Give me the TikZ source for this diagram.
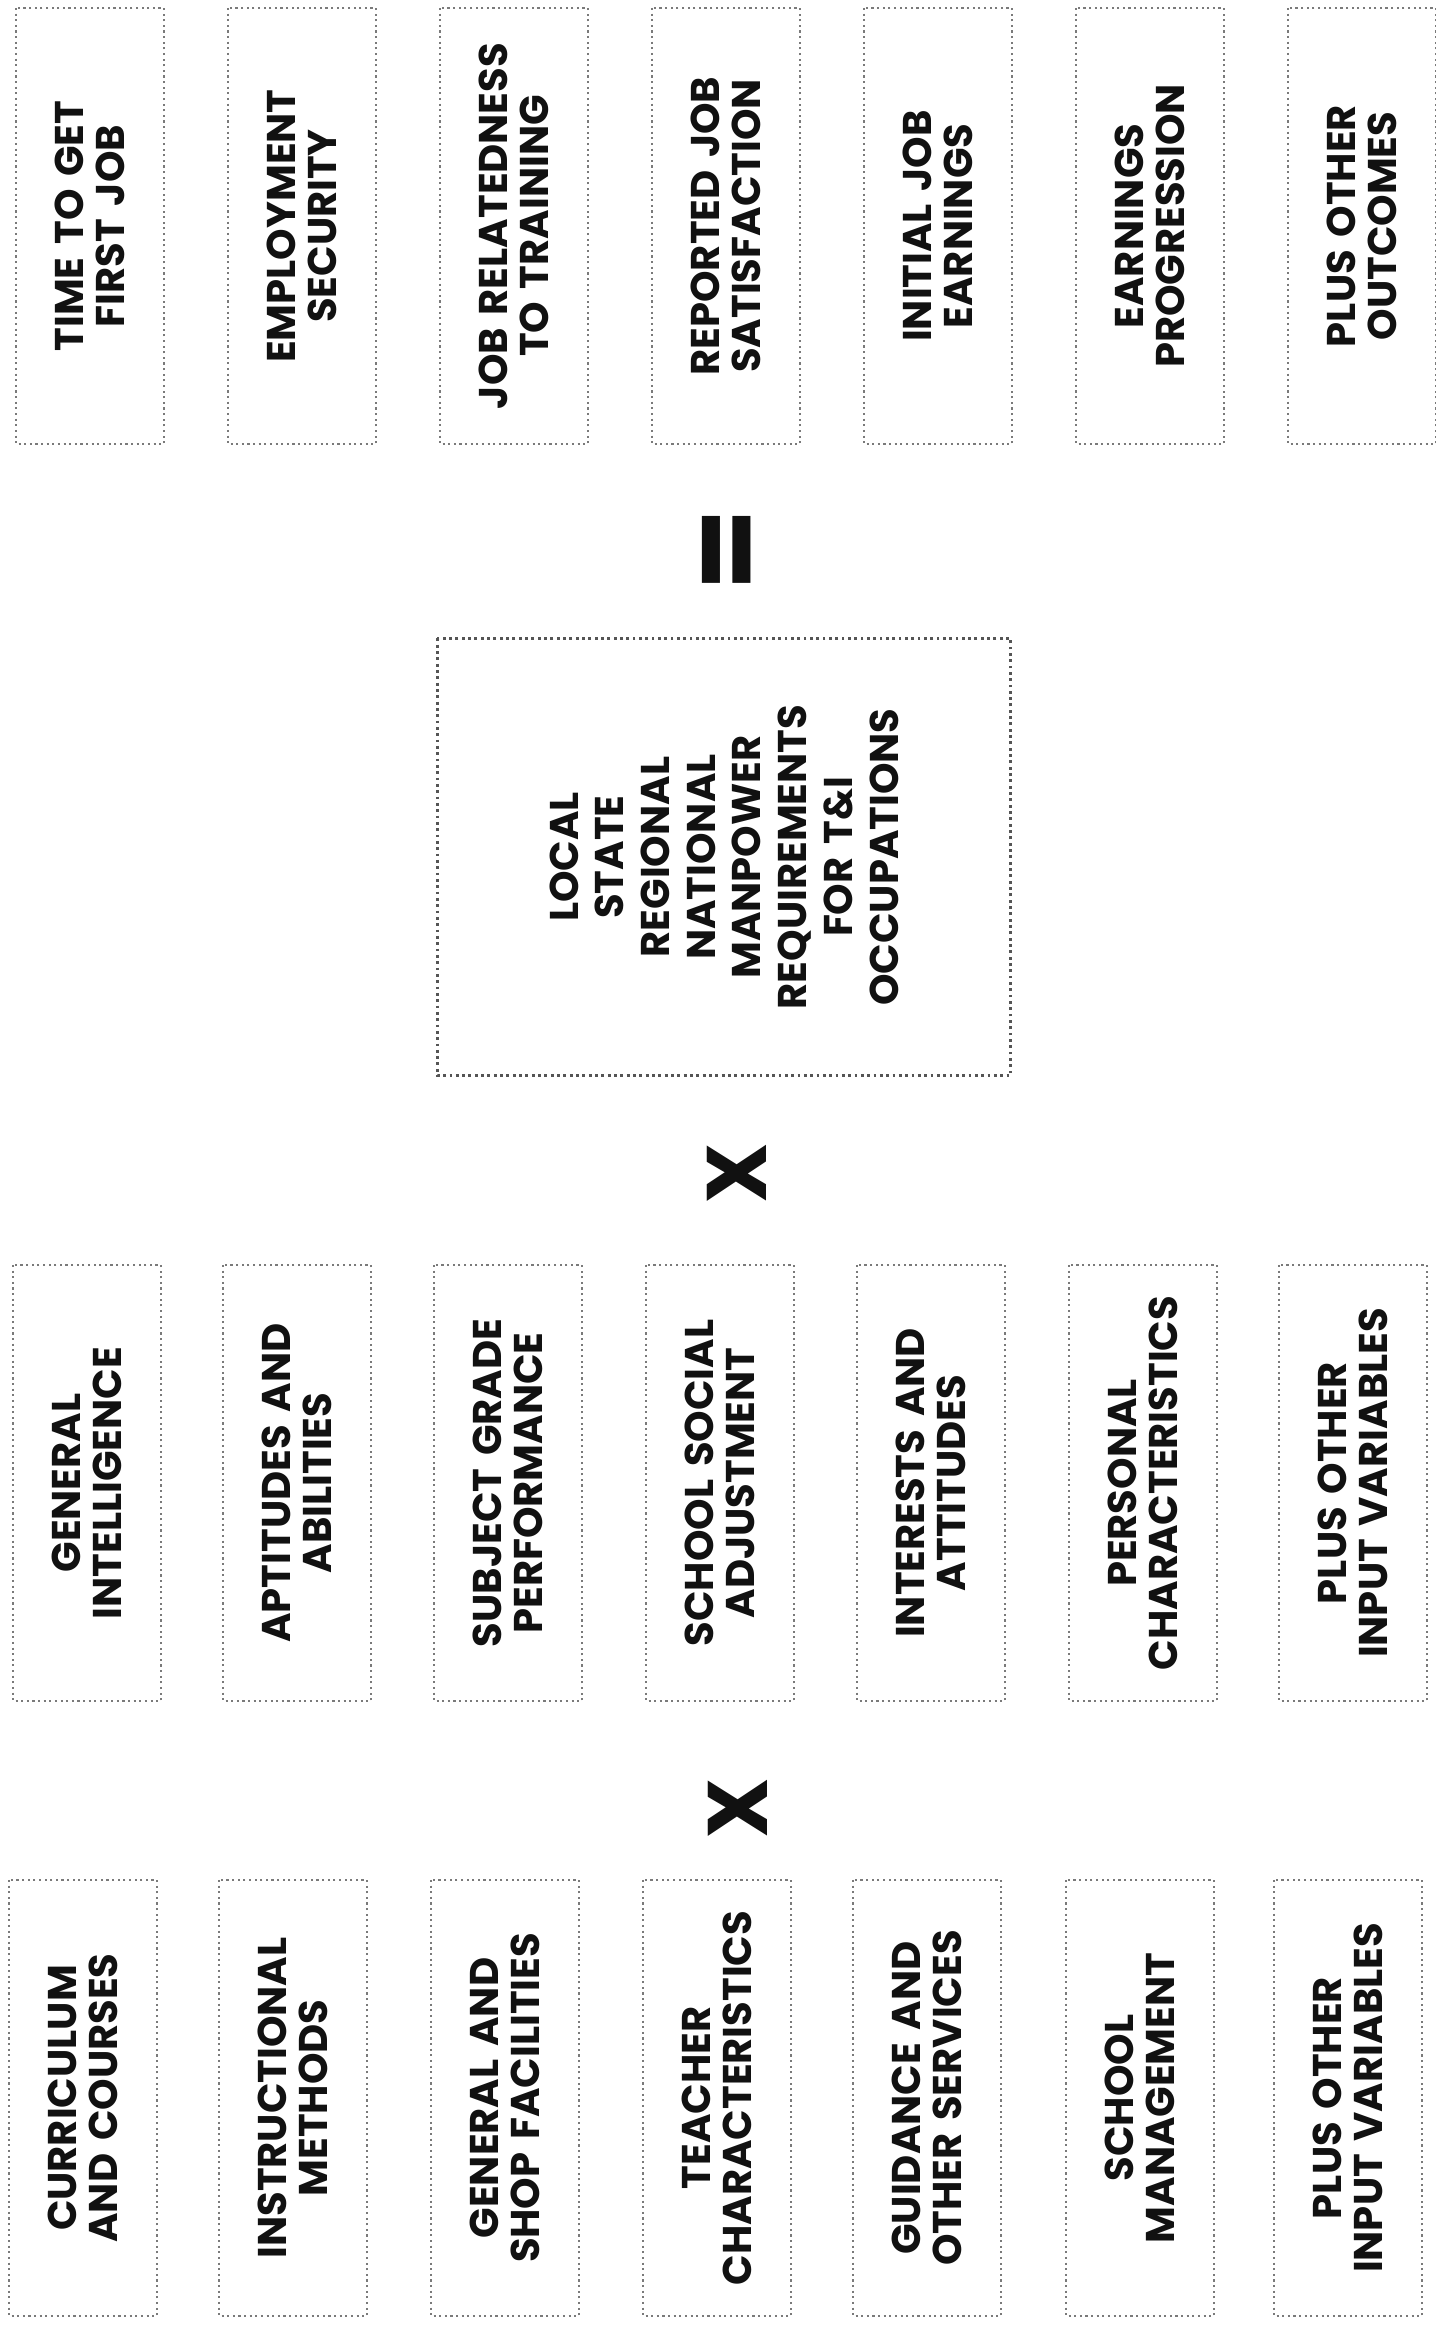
\documentclass[tikz,border=0pt]{standalone}
\usepackage{fontspec}
\setmainfont{Poppins}[WordSpace=1.5]
\usepackage{tikz}
\usetikzlibrary{positioning}
\definecolor{scanink}{HTML}{111111}
\definecolor{scangray}{HTML}{7A7A7A}
\tikzset{
  varbox/.style={draw=scangray, densely dotted, line width=0.6pt, rotate=90,
    minimum width=4.36cm, minimum height=1.48cm, inner sep=0pt, align=center,
    text=scanink, font=\fontsize{11.4}{11.7}\selectfont\bfseries},
  needbox/.style={draw=scangray!70!black, densely dotted, line width=0.8pt, rotate=90,
    minimum width=4.37cm, minimum height=5.73cm, inner sep=0pt, align=center,
    text=scanink, font=\fontsize{11.4}{13}\selectfont\bfseries},
  opsign/.style={rotate=90, inner sep=0pt, text=scanink}
}

\begin{document}
\begin{tikzpicture}[x=0.01cm, y=-0.01cm]
\useasboundingbox (0,0) rectangle (1435,2326);
% outcomes
\node[varbox] (out1) at (90,226) {TIME TO GET\\FIRST JOB};
\node[varbox] (out2) at (302,226) {EMPLOYMENT\\SECURITY};
\node[varbox] (out3) at (514,226) {JOB RELATEDNESS\\TO TRAINING};
\node[varbox] (out4) at (726,226) {REPORTED JOB\\SATISFACTION};
\node[varbox] (out5) at (938,226) {INITIAL JOB\\EARNINGS};
\node[varbox] (out6) at (1150,226) {EARNINGS\\PROGRESSION};
\node[varbox] (out7) at (1362,226) {PLUS OTHER\\OUTCOMES};
% equals and manpower box
\node[opsign, font=\fontsize{34}{34}\selectfont\bfseries] (eq) at (735,550) {=};
\node[needbox] (need) at (724,857) {LOCAL\\STATE\\REGIONAL\\NATIONAL\\MANPOWER\\REQUIREMENTS\\FOR T\&I\\OCCUPATIONS};
\node[opsign, font=\fontsize{24}{24}\selectfont\bfseries] (times1) at (737,1173) {X};
% student variables
\node[varbox] (stu1) at (87,1483) {GENERAL\\INTELLIGENCE};
\node[varbox] (stu2) at (297,1483) {APTITUDES AND\\ABILITIES};
\node[varbox] (stu3) at (508,1483) {SUBJECT GRADE\\PERFORMANCE};
\node[varbox] (stu4) at (720,1483) {SCHOOL SOCIAL\\ADJUSTMENT};
\node[varbox] (stu5) at (931,1483) {INTERESTS AND\\ATTITUDES};
\node[varbox] (stu6) at (1143,1483) {PERSONAL\\CHARACTERISTICS};
\node[varbox] (stu7) at (1353,1483) {PLUS OTHER\\INPUT VARIABLES};
\node[opsign, font=\fontsize{24}{24}\selectfont\bfseries] (times2) at (738,1808) {X};
% school variables
\node[varbox] (sch1) at (83,2098) {CURRICULUM\\AND COURSES};
\node[varbox] (sch2) at (293,2098) {INSTRUCTIONAL\\METHODS};
\node[varbox] (sch3) at (505,2098) {GENERAL AND\\SHOP FACILITIES};
\node[varbox] (sch4) at (717,2098) {TEACHER\\CHARACTERISTICS};
\node[varbox] (sch5) at (927,2098) {GUIDANCE AND\\OTHER SERVICES};
\node[varbox] (sch6) at (1140,2098) {SCHOOL\\MANAGEMENT};
\node[varbox] (sch7) at (1348,2098) {PLUS OTHER\\INPUT VARIABLES};
\end{tikzpicture}
\end{document}
